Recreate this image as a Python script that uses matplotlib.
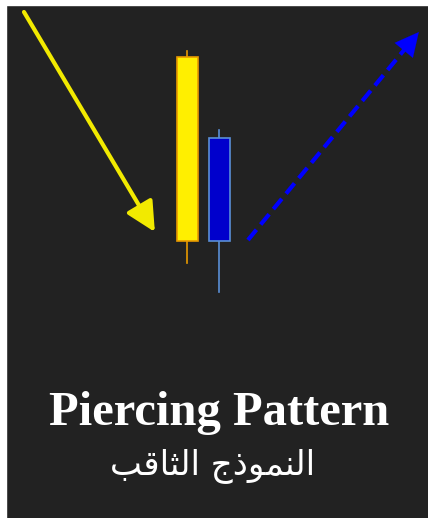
import matplotlib.pyplot as plt
from matplotlib.patches import Rectangle

# candle data (price units), left = bearish yellow, right = bullish blue
candle_x = [1, 2]
candle_open = [46.1, 27.7]
candle_high = [46.7, 38.8]
candle_low = [25.5, 22.6]
candle_close = [27.7, 38.0]
body_colors = ['#ffef00', '#0000cc']
edge_colors = ['#e89a00', '#5a8fd6']

# trend arrows: (x_start, price_start) -> (x_end, price_end)
down_arrow = [(-4.11, 50.6), (-0.02, 28.6)]
up_arrow = [(2.89, 27.8), (8.23, 48.6)]

title_en = 'Piercing Pattern'
# Arabic "النموذج الثاقب" written with presentation forms in visual order
title_ar = '\ufe90\ufed7\ufe8e\ufe9c\ufedf\ufe8d \ufe9d\ufeab\ufeee\ufee4\ufee8\ufedf\ufe8d'

fig = plt.figure(figsize=(4.28, 5.18), dpi=100, facecolor='#222222')
# white strips on the left and top edges
fig.patches.append(Rectangle((0, 0), 6 / 428, 1, transform=fig.transFigure,
                             color='white', zorder=0))
fig.patches.append(Rectangle((0, 1 - 5 / 518), 1, 5 / 518, transform=fig.transFigure,
                             color='white', zorder=0))

ax = fig.add_axes([6 / 428, 0, 1 - 6 / 428, 1 - 5 / 518])
ax.set_xlim(-4.672, 8.516)
ax.set_ylim(0, 51.3)
ax.axis('off')

w = 0.66
for i in range(len(candle_x)):
    ax.plot([candle_x[i], candle_x[i]], [candle_low[i], candle_high[i]],
            color=edge_colors[i], lw=1.2, zorder=2)
    lo = min(candle_open[i], candle_close[i])
    hi = max(candle_open[i], candle_close[i])
    ax.add_patch(Rectangle((candle_x[i] - w / 2, lo), w, hi - lo,
                           facecolor=body_colors[i], edgecolor=edge_colors[i],
                           lw=1.2, zorder=3))

# yellow solid arrow
ax.annotate('', xy=down_arrow[1], xytext=down_arrow[0],
            arrowprops=dict(arrowstyle='-|>,head_length=1.8,head_width=0.9',
                            color='#f2ea00', lw=3.0, shrinkA=0, shrinkB=0))

# blue dashed arrow
(x0, y0), (x1, y1) = up_arrow
ax.plot([x0, x0 + (x1 - x0) * 0.93], [y0, y0 + (y1 - y0) * 0.93],
        color='#0000ff', lw=3.0, dashes=(3.2, 1.6), solid_capstyle='butt')
ax.annotate('', xy=(x1, y1), xytext=(x0 + (x1 - x0) * 0.9, y0 + (y1 - y0) * 0.9),
            arrowprops=dict(arrowstyle='-|>,head_length=1.7,head_width=0.85',
                            color='#0000ff', lw=0.1, shrinkA=0, shrinkB=0))

fig.text(0.511, 1 - 425 / 518, title_en, ha='center', va='baseline',
         fontsize=35, fontweight='bold', family='Liberation Serif', color='white')
fig.text(0.497, 1 - 474 / 518, title_ar, ha='center', va='baseline',
         fontsize=24.5, family='DejaVu Sans', color='white')

fig.savefig('out.png', dpi=100, facecolor='#222222')
